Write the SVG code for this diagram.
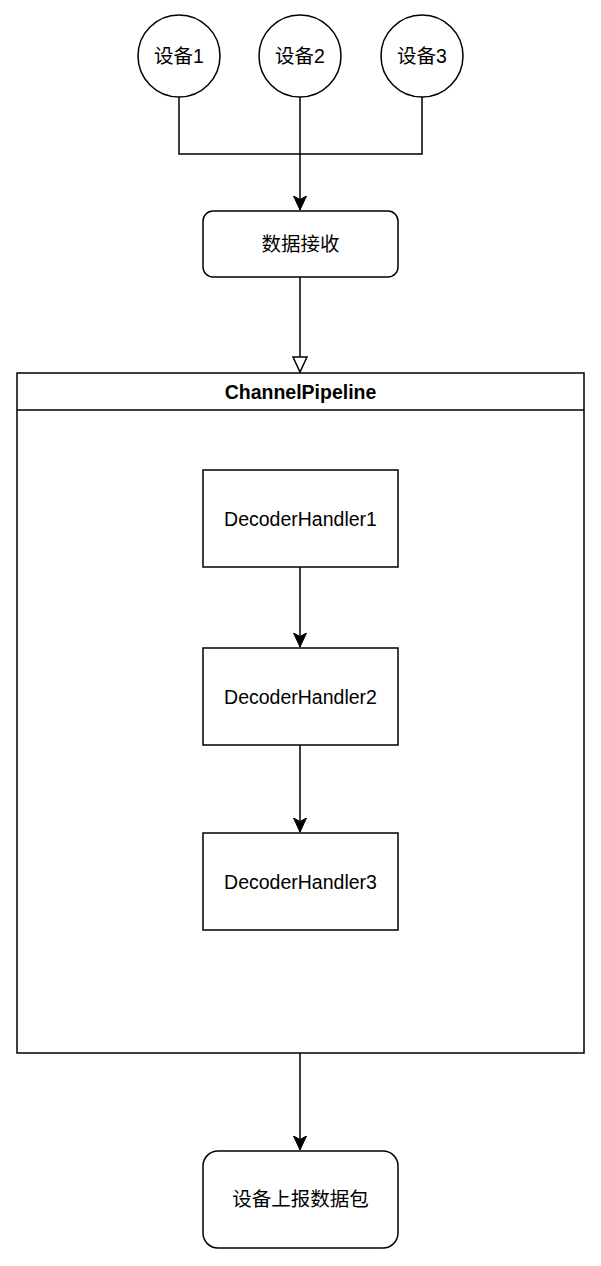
<svg xmlns="http://www.w3.org/2000/svg" width="601" height="1266" viewBox="0 0 601 1266">
<defs>
<marker id="arrow" markerWidth="16" markerHeight="16" refX="14" refY="7" orient="auto" markerUnits="userSpaceOnUse">
<path d="M0,0.5 L14,7 L0,13.5 L3.5,7 Z" fill="#000" stroke="#000" stroke-width="1"/>
</marker>
<marker id="hollow" markerWidth="18" markerHeight="18" refX="16" refY="8" orient="auto" markerUnits="userSpaceOnUse">
<path d="M1,1 L16,8 L1,15 Z" fill="#fff" stroke="#000" stroke-width="1.5"/>
</marker>
</defs>
<style>
.shape{fill:#fff;stroke:#000;stroke-width:1.5}
.conn{fill:none;stroke:#000;stroke-width:1.5}
.lbl{font-family:"Liberation Sans","Noto Sans CJK SC",sans-serif;font-size:19.5px;fill:#000;text-anchor:middle;dominant-baseline:central}
.title{font-family:"Liberation Sans","Noto Sans CJK SC",sans-serif;font-size:19.5px;font-weight:bold;fill:#000;text-anchor:middle;dominant-baseline:central}
</style>
<rect width="601" height="1266" fill="#fff"/>
<g id="pipeline">
<rect class="shape" x="17" y="373" width="567" height="680"/>
<line class="conn" x1="17" y1="410" x2="584" y2="410"/>
<text class="title" x="300.5" y="392">ChannelPipeline</text>
</g>
<g id="connectors">
<path class="conn" d="M179,97 V154 H422 V97"/>
<path class="conn" d="M300,97 V210" marker-end="url(#arrow)"/>
<path class="conn" d="M300,277 V372" marker-end="url(#hollow)"/>
<path class="conn" d="M300,567 V647" marker-end="url(#arrow)"/>
<path class="conn" d="M300,745 V832" marker-end="url(#arrow)"/>
<path class="conn" d="M300,1053 V1150" marker-end="url(#arrow)"/>
</g>
<g id="device1"><circle class="shape" cx="179" cy="56" r="41"/><text class="lbl" x="179" y="56">设备1</text></g>
<g id="device2"><circle class="shape" cx="300" cy="56" r="41"/><text class="lbl" x="300" y="56">设备2</text></g>
<g id="device3"><circle class="shape" cx="422" cy="56" r="41"/><text class="lbl" x="422" y="56">设备3</text></g>
<g id="receive"><rect class="shape" x="203" y="211" width="195" height="66" rx="10"/><text class="lbl" x="300.5" y="244">数据接收</text></g>
<g id="handler1"><rect class="shape" x="203" y="470" width="195" height="97"/><text class="lbl" x="300.5" y="519">DecoderHandler1</text></g>
<g id="handler2"><rect class="shape" x="203" y="648" width="195" height="97"/><text class="lbl" x="300.5" y="697">DecoderHandler2</text></g>
<g id="handler3"><rect class="shape" x="203" y="833" width="195" height="97"/><text class="lbl" x="300.5" y="882">DecoderHandler3</text></g>
<g id="report"><rect class="shape" x="203" y="1151" width="195" height="97" rx="15"/><text class="lbl" x="300.5" y="1199">设备上报数据包</text></g>
</svg>
